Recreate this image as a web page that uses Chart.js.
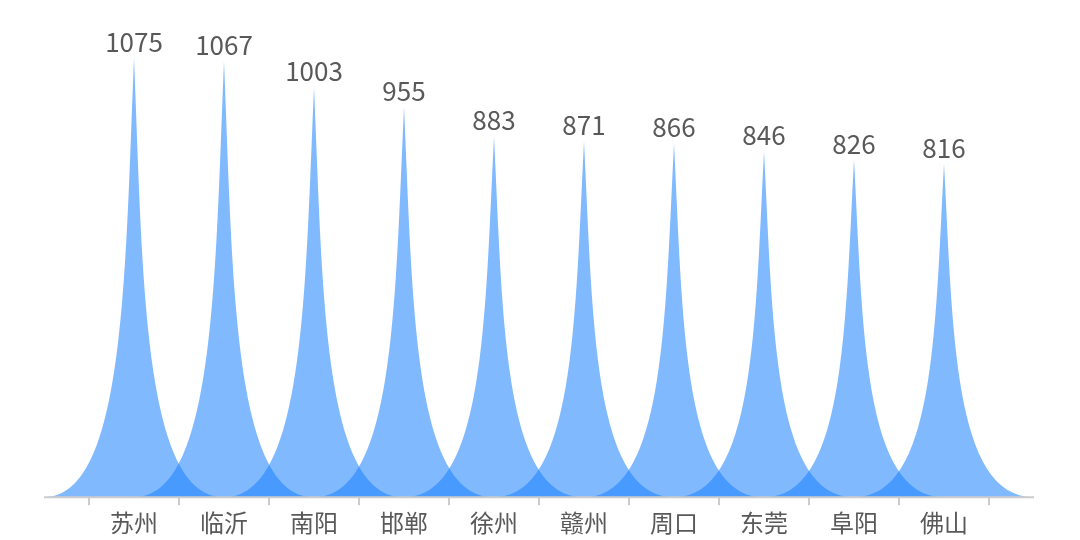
<!DOCTYPE html>
<html>
<head>
<meta charset="utf-8">
<script src="https://cdn.jsdelivr.net/npm/chart.js@4.4.0/dist/chart.umd.min.js"></script>
<style>
  html, body { margin: 0; padding: 0; background: #fff; }
  #wrap { width: 1080px; height: 540px; }
</style>
</head>
<body>
<div id="wrap"><canvas id="spikeChart"></canvas></div>
<script>
// city names and their values
const cities = ['苏州', '临沂', '南阳', '邯郸', '徐州', '赣州', '周口', '东莞', '阜阳', '佛山'];
const values = [1075, 1067, 1003, 955, 883, 871, 866, 846, 826, 816];

const spikeColor = 'rgba(30, 130, 255, 0.56)';
const textColor = '#595959';
const fontFamily = '"Noto Sans CJK SC", "Noto Sans", sans-serif';

// draws each bar as a spike (same curve as the echarts pictorial path)
const spikePlugin = {
    id: 'spikes',
    afterDatasetsDraw(chart) {
        const ctx = chart.ctx;
        const meta = chart.getDatasetMeta(0);
        ctx.save();
        meta.data.forEach((bar, i) => {
            const half = bar.width;   // spike base is two bands wide
            const x = bar.x, top = bar.y, base = bar.base;
            const h = base - top;
            const k = half * 0.1;
            ctx.beginPath();
            ctx.moveTo(x - half, base);
            ctx.lineTo(x + half, base);
            ctx.bezierCurveTo(x + k, base, x + k, base - h / 2, x, top);
            ctx.bezierCurveTo(x - k, base - h / 2, x - k, base, x - half, base);
            ctx.closePath();
            ctx.fillStyle = spikeColor;
            ctx.fill();

            ctx.fillStyle = textColor;
            ctx.font = '26px ' + fontFamily;
            ctx.textAlign = 'center';
            ctx.textBaseline = 'bottom';
            ctx.fillText(String(values[i]), x, top - 3);
        });

        // axis line runs the full width of the spikes
        const xs = chart.scales.x;
        const band = meta.data[0].width;
        ctx.strokeStyle = '#cccccc';
        ctx.lineWidth = 2;
        ctx.beginPath();
        ctx.moveTo(xs.left - band / 2, xs.top);
        ctx.lineTo(xs.right + band / 2, xs.top);
        ctx.stroke();
        ctx.restore();
    }
};

const ctx = document.getElementById('spikeChart').getContext('2d');
const spikeChart = new Chart(ctx, {
    type: 'bar',
    data: {
        labels: cities,
        datasets: [
            {
                data: values,
                backgroundColor: 'rgba(0,0,0,0)',
                barPercentage: 1,
                categoryPercentage: 1
            }
        ]
    },
    options: {
        responsive: true,
        maintainAspectRatio: false,
        animation: false,
        layout: {
            padding: { left: 89, right: 91, top: 58, bottom: 0 }
        },
        plugins: {
            legend: { display: false },
            tooltip: { enabled: false }
        },
        scales: {
            x: {
                border: { display: false },
                grid: {
                    offset: true,
                    drawOnChartArea: false,
                    tickLength: 8,
                    color: '#cccccc',
                    lineWidth: 2
                },
                ticks: {
                    color: textColor,
                    font: { family: fontFamily, size: 24 },
                    padding: 3
                }
            },
            y: {
                display: false,
                min: 0,
                max: 1075
            }
        }
    },
    plugins: [spikePlugin]
});
</script>
</body>
</html>
